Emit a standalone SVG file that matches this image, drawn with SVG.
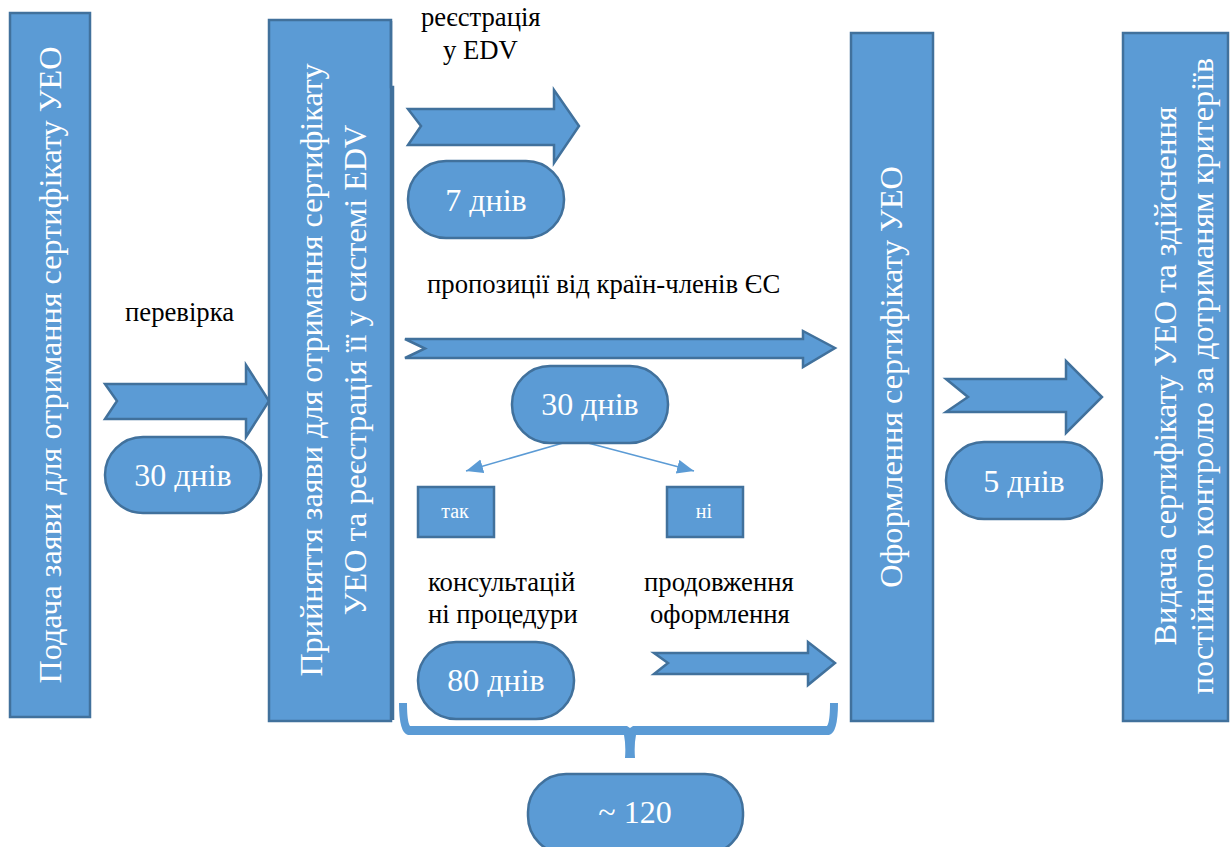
<svg xmlns="http://www.w3.org/2000/svg" width="1230" height="847" viewBox="0 0 1230 847">
<style>
.s{fill:#5b9bd5;stroke:#41719c;stroke-width:2.5;stroke-linejoin:miter}
text{font-family:"Liberation Serif","Times New Roman",serif}
.w{fill:#fff;text-anchor:middle}
.b{fill:#000;font-size:26.700px}
.v{font-size:32.200px}
.d{font-size:32px}
.c{stroke:#5b9bd5;stroke-width:1.5;fill:none}
</style>
<defs>
<marker id="ah" markerUnits="userSpaceOnUse" markerWidth="20" markerHeight="16" refX="17" refY="7" orient="auto"><path d="M0 0L17 7L0 14Z" fill="#5b9bd5"/></marker>
</defs>
<rect width="1230" height="847" fill="#fff"/>
<g id="connectors">
<path class="c" d="M563 443L466 471" marker-end="url(#ah)"/>
<path class="c" d="M588 443L694 471" marker-end="url(#ah)"/>
<path id="brace" d="M399 703H407Q407 722 410 726H627L630 728L633 726H827Q830 722 830 703H838Q838 733 829 735H636Q634 745 635 758H625Q626 745 624 735H408Q399 733 399 703Z" fill="#5b9bd5"/>
</g>
<g id="arrow-1"><path class="s" d="M105 384H246V365L269 401L246 437V419H105L117 401Z"/></g>
<g id="arrow-2"><path class="s" d="M408 109H554V90L579 126L554 163V145H408L421 126Z"/></g>
<g id="arrow-3"><path class="s" d="M405 339H803V331L835 348L803 367V358H405L425 348.500Z"/></g>
<g id="arrow-4"><path class="s" d="M654 653H808V642L835 663L808 685V674H654L668 663Z"/></g>
<g id="arrow-5"><path class="s" d="M946 379H1066V361L1102 397L1066 433V412H946L968 397Z"/></g>
<g id="node-1"><rect class="s" x="10" y="13" width="80" height="704"/><text class="w v" transform="translate(61 365) rotate(-90)">Подача заяви для отримання сертифікату УЕО</text></g>
<g id="node-2"><rect class="s" x="269" y="20" width="122" height="701"/><path d="M391 21V87H393V720" fill="none" stroke="#41719c" stroke-width="2.500"/><text class="w v" transform="translate(322 370) rotate(-90)">Прийняття заяви для отримання сертифікату</text><text class="w v" transform="translate(366 370) rotate(-90)">УЕО та реєстрація її у системі EDV</text></g>
<g id="node-3"><rect class="s" x="851" y="33" width="82" height="688"/><text class="w v" transform="translate(902 377) rotate(-90)">Оформлення сертифікату УЕО</text></g>
<g id="node-4"><rect class="s" x="1123" y="33" width="105" height="688"/><text class="w v" transform="translate(1176 376) rotate(-90)">Видача сертифікату УЕО та здійснення</text><text class="w v" transform="translate(1213 376) rotate(-90)">постійного контролю за дотриманям критеріїв</text></g>
<g id="pill-1"><rect class="s" x="105" y="437" width="156" height="76" rx="38"/><text class="w d" x="183" y="486">30 днів</text></g>
<g id="pill-2"><rect class="s" x="408" y="161" width="156" height="77" rx="38"/><text class="w d" x="486" y="211">7 днів</text></g>
<g id="pill-3"><rect class="s" x="512" y="366" width="156" height="77" rx="38"/><text class="w d" x="590" y="415">30 днів</text></g>
<g id="pill-4"><rect class="s" x="418" y="642" width="156" height="77" rx="38"/><text class="w d" x="496" y="691">80 днів</text></g>
<g id="pill-5"><rect class="s" x="946" y="442" width="156" height="77" rx="38"/><text class="w d" x="1024" y="492">5 днів</text></g>
<g id="pill-6"><rect class="s" x="528" y="774" width="215" height="80" rx="38"/><text class="w d" x="635" y="823">~ 120</text></g>
<g id="node-yes"><rect class="s" x="418" y="487" width="76" height="50"/><text class="w" x="455" y="518" font-size="20">так</text></g>
<g id="node-no"><rect class="s" x="667" y="487" width="76" height="50"/><text class="w" x="704" y="518" font-size="20">ні</text></g>
<g id="labels">
<text class="b" x="125" y="321">перевірка</text>
<text class="b" x="421" y="26">реєстрація</text>
<text class="b" x="443" y="59">у EDV</text>
<text class="b" x="427" y="293">пропозиції від країн-членів ЄС</text>
<text class="b" x="428" y="591">консультацій</text>
<text class="b" x="428" y="623">ні процедури</text>
<text class="b" x="644" y="591">продовження</text>
<text class="b" x="650" y="623">оформлення</text>
</g>
</svg>
